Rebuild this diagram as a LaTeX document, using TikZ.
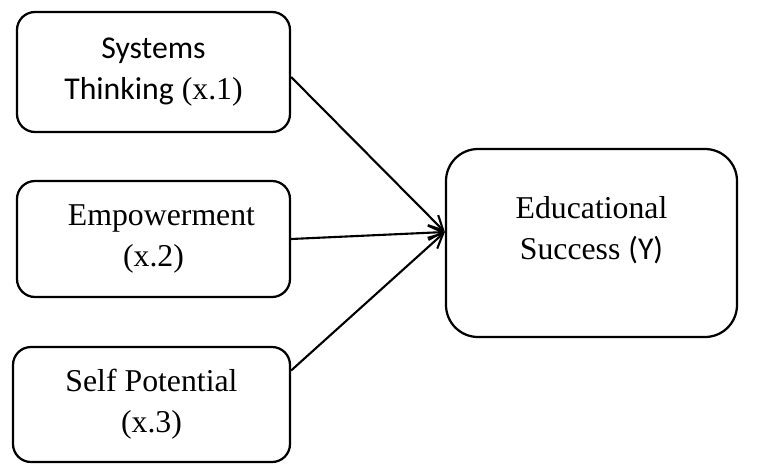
\documentclass[tikz,border=0pt]{standalone}
\usepackage{fontspec}
\setmainfont{Liberation Serif}
\newfontfamily\calibri{Carlito}
\usepackage{tikz}
\usetikzlibrary{arrows.meta,positioning,calc}
\tikzstyle{factor} = [rectangle, rounded corners=0.45cm, minimum width=6.825cm, minimum height=2.9cm, align=center, draw=black, line width=1.6pt, font=\fontsize{22.6}{29}\selectfont]
\tikzstyle{outcome} = [factor, rounded corners=0.8cm, minimum width=7.275cm, minimum height=4.7cm, text depth=0.75cm]
\tikzstyle{arrow} = [line width=1.5pt, -{Straight Barb[length=3.6mm,width=3.6mm]}]

\begin{document}
\begin{tikzpicture}
\useasboundingbox (0,0) rectangle (19.025,-11.6);
% Factors
\node (sys) [factor, minimum height=3cm] at (3.8375,-1.8) {{\calibri Systems}\\{\calibri Thinking} (x.1)};
\node (emp) [factor] at (3.8375,-5.975) {\hspace*{0.4cm}Empowerment\\(x.2)};
\node (self) [factor, minimum width=6.925cm, minimum height=2.875cm] at (3.7875,-10.1125) {Self Potential\\(x.3)};

% Outcome
\node (edu) [outcome] at (14.7875,-6.075) {Educational\\Success {\calibri (Y)}};
\coordinate (target) at ([yshift=0.275cm]edu.west);

% Arrows
\draw[arrow] ([yshift=-0.125cm]sys.east) -- (target);
\draw[arrow] (emp.east) -- (target);
\draw[arrow] ([yshift=0.85cm]self.east) -- (target);
\end{tikzpicture}
\end{document}
